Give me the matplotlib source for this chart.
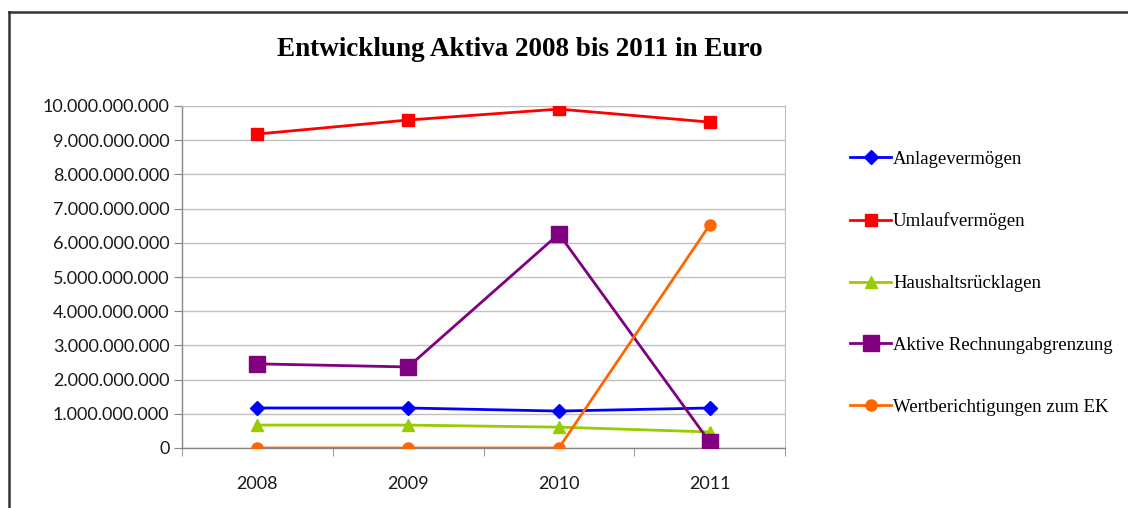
import matplotlib
matplotlib.use("Agg")
import matplotlib.pyplot as plt
from matplotlib.lines import Line2D
from matplotlib.ticker import FuncFormatter, FixedLocator

years = ["2008", "2009", "2010", "2011"]
anlage = [1.17e9, 1.17e9, 1.08e9, 1.17e9]
umlauf = [9.18e9, 9.59e9, 9.91e9, 9.53e9]
rueckl = [0.67e9, 0.67e9, 0.61e9, 0.47e9]
rap = [2.46e9, 2.37e9, 6.26e9, 0.18e9]
wertb = [0.0, 0.0, 0.0, 6.52e9]

series = [
    ("Anlagevermögen", anlage, "#0000ff", "D", 7),
    ("Umlaufvermögen", umlauf, "#ff0000", "s", 8),
    ("Haushaltsrücklagen", rueckl, "#99cc00", "^", 9),
    ("Aktive Rechnungabgrenzung", rap, "#800080", "s", 12),
    ("Wertberichtigungen zum EK", wertb, "#ff6600", "o", 8),
]

fig = plt.figure(figsize=(11.28, 5.08), dpi=100)
fig.patch.set_facecolor("white")
ax = fig.add_axes([182 / 1128, 1 - 448 / 508, (785 - 182) / 1128, (448 - 106) / 508])

x = list(range(len(years)))
handles = []
for label, vals, color, marker, ms in series:
    (h,) = ax.plot(x, vals, color=color, lw=2, marker=marker, markersize=ms,
                   markeredgecolor=color, markerfacecolor=color, label=label, zorder=3)
    handles.append(h)

ax.set_xlim(-0.5, 3.5)
ax.set_ylim(0, 1e10)
ax.set_yticks([i * 1e9 for i in range(11)])
ax.yaxis.set_major_formatter(FuncFormatter(lambda v, p: f"{int(round(v)):,}".replace(",", ".")))
ax.set_xticks(x)
ax.set_xticklabels(years)
ax.xaxis.set_minor_locator(FixedLocator([-0.5, 0.5, 1.5, 2.5, 3.5]))

ax.grid(axis="y", color="#c0c0c0", lw=1, zorder=0)
ax.set_axisbelow(True)
for side in ["top", "right"]:
    ax.spines[side].set_color("#c0c0c0")
for side in ["left", "bottom"]:
    ax.spines[side].set_color("#868686")
    ax.spines[side].set_linewidth(1)
ax.tick_params(axis="y", length=6, color="#868686", labelsize=13, pad=3, labelcolor="#1a1a1a")
ax.tick_params(axis="x", which="major", length=0, labelsize=13, pad=20, labelcolor="#1a1a1a")
ax.tick_params(axis="x", which="minor", length=6, color="#868686")
for t in ax.get_xticklabels() + ax.get_yticklabels():
    t.set_family(["Lato", "DejaVu Sans"])

fig.text(520 / 1128, 1 - 50 / 508, "Entwicklung Aktiva 2008 bis 2011 in Euro",
         ha="center", va="center", fontsize=19.5, fontweight="bold",
         family=["Liberation Serif"])

leg = fig.legend(handles=handles, loc="upper left", bbox_to_anchor=(833 / 1128, 1 - 134 / 508),
                 frameon=False, prop={"family": "Liberation Serif", "size": 13.5},
                 labelspacing=2.38, handlelength=2.2, handletextpad=0.1)

# outer chart frame (left and top edges visible)
fig.add_artist(Line2D([8.5 / 1128, 8.5 / 1128], [0, 1 - 11.5 / 508], transform=fig.transFigure,
                      color="#333333", lw=1.8))
fig.add_artist(Line2D([8.5 / 1128, 1], [1 - 11.5 / 508, 1 - 11.5 / 508], transform=fig.transFigure,
                      color="#333333", lw=1.8))

fig.savefig("out.png", dpi=100, facecolor="white")
